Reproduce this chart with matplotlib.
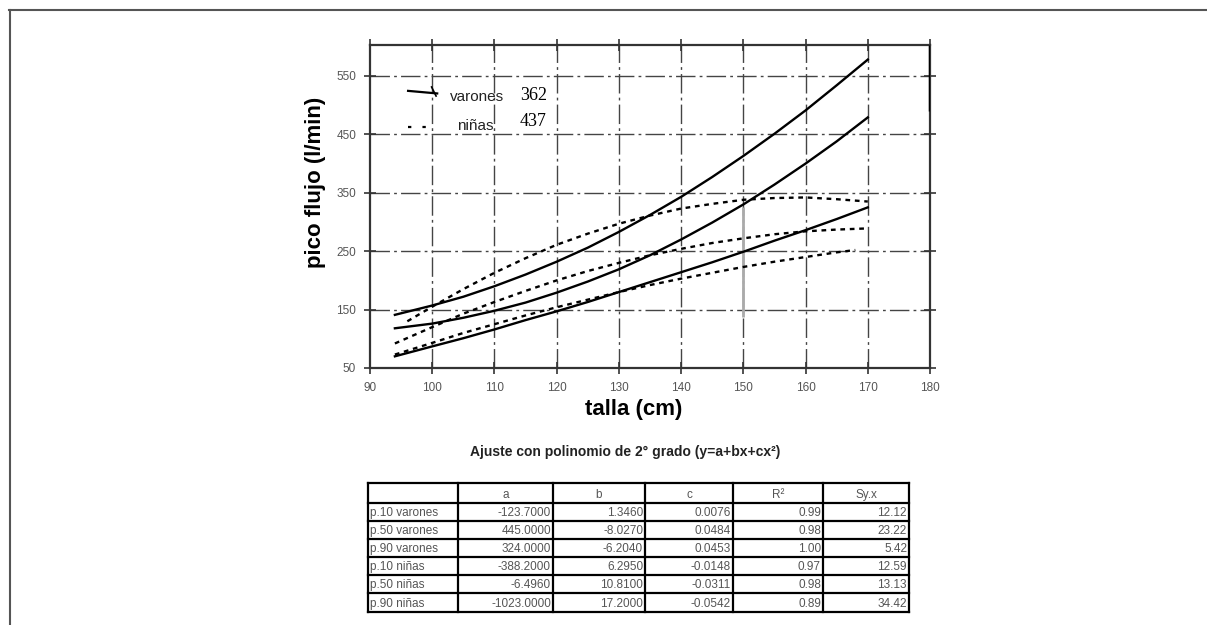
import matplotlib
matplotlib.use("Agg")
import matplotlib.pyplot as plt
from matplotlib.lines import Line2D

plt.rcParams['font.family'] = ['Liberation Sans', 'DejaVu Sans']

# ---------------- data ----------------
talla = [94, 100, 105, 110, 115, 120, 125, 130, 135, 140, 145, 150, 155, 160, 165, 170]
varones_p10 = [70, 87, 101, 116, 132, 147, 163, 180, 197, 214, 231, 249, 268, 286, 305, 325]
varones_p50 = [118, 126, 136, 148, 162, 179, 198, 219, 243, 270, 299, 330, 364, 400, 438, 479]
varones_p90 = [141, 157, 172, 190, 210, 232, 256, 283, 312, 343, 377, 413, 451, 491, 534, 578]

talla_n10 = [94, 100, 105, 110, 115, 120, 125, 130, 135, 140, 145, 150, 155, 160, 165, 168]
ninas_p10 = [73, 93, 110, 125, 140, 154, 167, 180, 192, 203, 213, 223, 232, 240, 248, 252]
talla_n50 = [94, 100, 105, 110, 115, 120, 125, 130, 135, 140, 145, 150, 155, 160, 165, 170]
ninas_p50 = [92, 120, 143, 163, 182, 200, 216, 230, 243, 254, 264, 272, 279, 284, 287, 289]
talla_n90 = [96, 100, 105, 110, 115, 120, 125, 130, 135, 140, 145, 150, 155, 160, 165, 170]
ninas_p90 = [130, 155, 185, 213, 238, 261, 280, 297, 311, 323, 331, 338, 341, 342, 339, 335]

x_ticks = [90, 100, 110, 120, 130, 140, 150, 160, 170, 180]
y_ticks = [50, 150, 250, 350, 450, 550]

legend_labels = ["varones", "niñas"]
legend_counts = ["362", "437"]

table_title = "Ajuste con polinomio de 2° grado (y=a+bx+cx²)"
table_header = ["", "a", "b", "c", "R²", "Sy.x"]
table_rows = ["p.10 varones", "p.50 varones", "p.90 varones", "p.10 niñas", "p.50 niñas", "p.90 niñas"]
col_a = ["-123.7000", "445.0000", "324.0000", "-388.2000", "-6.4960", "-1023.0000"]
col_b = ["1.3460", "-8.0270", "-6.2040", "6.2950", "10.8100", "17.2000"]
col_c = ["0.0076", "0.0484", "0.0453", "-0.0148", "-0.0311", "-0.0542"]
col_r2 = ["0.99", "0.98", "1.00", "0.97", "0.98", "0.89"]
col_syx = ["12.12", "23.22", "5.42", "12.59", "13.13", "34.42"]

# ---------------- figure ----------------
W, H = 1207, 625
fig = plt.figure(figsize=(W / 100, H / 100), dpi=100)
fig.patch.set_facecolor('white')

# main axes
left, right, top, bottom = 370, 930, 45, 368
ax = fig.add_axes([left / W, 1 - bottom / H, (right - left) / W, (bottom - top) / H])
ax.set_xlim(90, 180)
ax.set_ylim(50, 603)
ax.set_xticks(x_ticks)
ax.set_yticks(y_ticks)
ax.tick_params(axis='both', which='both', direction='inout', length=8, width=1.2,
               color='#333333', labelsize=8.5, labelcolor='#555555', pad=6,
               top=True, right=True)
for s in ax.spines.values():
    s.set_linewidth(1.6)
    s.set_color('#333333')

grid_style = dict(color='#444444', lw=1.0, linestyle=(0, (14, 3, 2, 3)), zorder=1)
for xv in x_ticks[1:-1]:
    ax.axvline(xv, **grid_style)
for yv in y_ticks[1:]:
    ax.axhline(yv, **grid_style)

# extra marks seen in the scan
ax.vlines(180, 490, 603, color='black', lw=2.5, zorder=3)
ax.vlines(150, 138, 325, color='#aaaaaa', lw=2.0, zorder=1.5)

solid = dict(color='black', lw=1.7, zorder=4)
dashed = dict(color='black', lw=1.7, linestyle=(0, (2, 2)), zorder=4)
ax.plot(talla, varones_p10, **solid)
ax.plot(talla, varones_p50, **solid)
ax.plot(talla, varones_p90, **solid)
ax.plot(talla_n10, ninas_p10, **dashed)
ax.plot(talla_n50, ninas_p50, **dashed)
ax.plot(talla_n90, ninas_p90, **dashed)

fig.text(634 / W, 1 - 410 / H, "talla (cm)", fontsize=16, fontweight='bold',
         ha='center', va='center')
fig.text(316 / W, 1 - 182 / H, "pico flujo (l/min)", rotation=90, fontsize=16,
         fontweight='bold', ha='center', va='center')

# legend (manual, as in original)
ax.add_line(Line2D([0.068, 0.12], [0.858, 0.85], transform=ax.transAxes, color='black', lw=1.6))
ax.add_line(Line2D([0.11, 0.118], [0.87, 0.842], transform=ax.transAxes, color='black', lw=1.2))
ax.add_line(Line2D([0.068, 0.105], [0.745, 0.745], transform=ax.transAxes, color='black',
                   lw=1.6, linestyle=(0, (1.5, 5))))
ax.text(0.143, 0.84, legend_labels[0], transform=ax.transAxes, fontsize=11, va='center', ha='left',
        color='#222222')
ax.text(0.268, 0.843, legend_counts[0], transform=ax.transAxes, fontsize=13, va='center', ha='left',
        family=['Liberation Serif', 'DejaVu Serif'])
ax.text(0.155, 0.75, legend_labels[1], transform=ax.transAxes, fontsize=11, va='center', ha='left',
        color='#222222')
ax.text(0.268, 0.764, legend_counts[1], transform=ax.transAxes, fontsize=13, va='center', ha='left',
        family=['Liberation Serif', 'DejaVu Serif'])

# ---------------- overlay (table + page frame) in pixel coords ----------------
ov = fig.add_axes([0, 0, 1, 1], facecolor='none')
ov.set_xlim(0, W)
ov.set_ylim(H, 0)
ov.axis('off')

# page frame
ov.plot([9, W], [10, 10], color='#555555', lw=1.5)
ov.plot([9.5, 9.5], [10, H], color='#555555', lw=1.5)

ov.text(625, 452, table_title, fontsize=10, fontweight='bold', ha='center', va='center',
        color='#222222')

col_edges = [368, 458, 553, 645, 733, 823, 909]
row_edges = [483, 503, 521, 539, 557, 575, 593, 612]
for xe in col_edges:
    ov.plot([xe, xe], [row_edges[0], row_edges[-1]], color='black', lw=1.6)
for ye in row_edges:
    ov.plot([col_edges[0], col_edges[-1]], [ye, ye], color='black', lw=1.6)

txt = dict(fontsize=8.5, color='#555555', va='baseline')
for j, h in enumerate(table_header):
    if h:
        ov.text((col_edges[j] + col_edges[j + 1]) / 2, row_edges[1] - 5, h,
                ha='center', **txt)
cols = [col_a, col_b, col_c, col_r2, col_syx]
for i, lab in enumerate(table_rows):
    yb = row_edges[i + 2] - 5
    ov.text(col_edges[0] + 2, yb, lab, ha='left', **txt)
    for j, col in enumerate(cols):
        ov.text(col_edges[j + 2] - 2, yb, col[i], ha='right', **txt)

fig.savefig("out.png", dpi=100, facecolor='white')
